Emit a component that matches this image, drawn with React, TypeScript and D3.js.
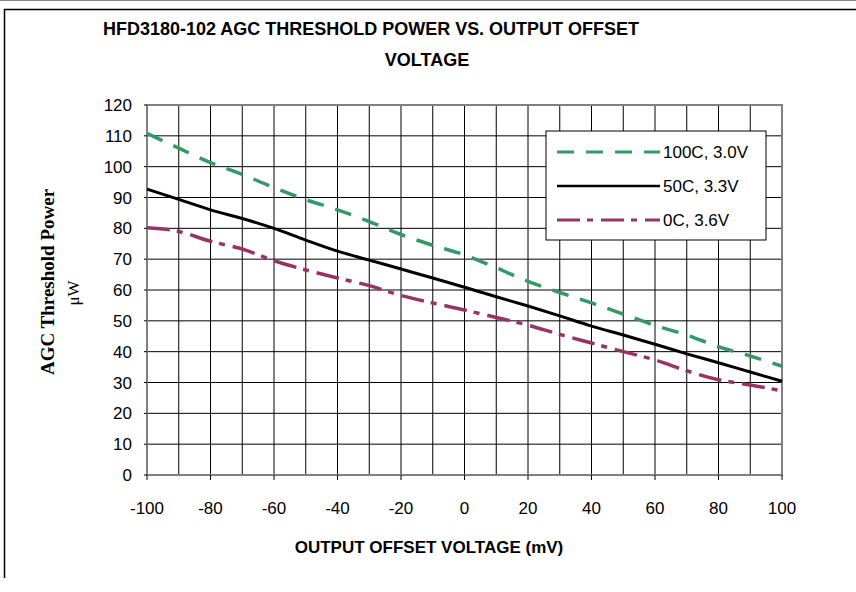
import React from 'react';
import * as d3 from 'd3';

const offsets = [-100, -90, -80, -70, -60, -50, -40, -30, -20, -10, 0, 10, 20, 30, 40, 50, 60, 70, 80, 90, 100];
const hot100 = [110.8, 106, 101.3, 97.5, 93.2, 89.3, 86, 82.2, 78, 74.5, 71.4, 67.2, 62.8, 59.2, 55.8, 52.2, 48.5, 45.4, 41.6, 38.6, 35.3];
const mid50 = [92.7, 89.4, 86, 83.2, 80, 76.2, 72.6, 69.7, 66.8, 63.9, 60.9, 57.8, 54.8, 51.6, 48.3, 45.4, 42.4, 39.3, 36.4, 33.4, 30.4];
const cold0 = [80.2, 79, 75.8, 73.3, 69.5, 66.5, 63.9, 61.4, 58.2, 55.8, 53.5, 51.1, 48.6, 45.6, 42.8, 40, 37.3, 33.8, 30.9, 29.2, 27.3];

const seriesNames = ['100C, 3.0V', '50C, 3.3V', '0C, 3.6V'];
const xTicks = [-100, -80, -60, -40, -20, 0, 20, 40, 60, 80, 100];
const yTicks = [0, 10, 20, 30, 40, 50, 60, 70, 80, 90, 100, 110, 120];

const sans = '"Liberation Sans", Arial, sans-serif';
const serif = '"Liberation Serif", "Times New Roman", serif';

export default function App() {
  const W = 856, H = 592;
  const plot = { left: 147, right: 782, top: 105, bottom: 475 };

  const x = d3.scaleLinear().domain([-100, 100]).range([plot.left, plot.right]);
  const y = d3.scaleLinear().domain([0, 120]).range([plot.bottom, plot.top]);

  const line = d3.line<number>()
    .x((_, i) => x(offsets[i]))
    .y(d => y(d))
    .curve(d3.curveMonotoneX);

  const series = [
    { name: seriesNames[0], values: hot100, color: '#339966', width: 3.5, dash: '17,12' },
    { name: seriesNames[1], values: mid50, color: '#000000', width: 3, dash: undefined },
    { name: seriesNames[2], values: cold0, color: '#993366', width: 3.5, dash: '23,7,6,8' },
  ];

  const gridX = d3.range(-90, 100, 10);
  const gridY = d3.range(10, 120, 10);

  const legend = { x: 546, y: 131, w: 220, h: 109 };
  const rowY = [152, 186, 220];

  return (
    <svg width={W} height={H} style={{ position: 'absolute', left: 0, top: 0, background: '#fff' }}>
      {/* outer frame */}
      <line x1={0} x2={W} y1={0.5} y2={0.5} stroke="#888" strokeWidth={1} />
      <line x1={4} x2={W} y1={9.5} y2={9.5} stroke="#000" strokeWidth={1.5} />
      <line x1={4.5} x2={4.5} y1={9} y2={578} stroke="#000" strokeWidth={1.5} />

      {/* title */}
      <text x={103} y={35} fontFamily={sans} fontWeight="bold" fontSize={18} textLength={536} lengthAdjust="spacingAndGlyphs">
        HFD3180-102 AGC THRESHOLD POWER VS. OUTPUT OFFSET
      </text>
      <text x={427} y={66} fontFamily={sans} fontWeight="bold" fontSize={18} textAnchor="middle">VOLTAGE</text>

      {/* grid */}
      {gridX.map(v => (
        <line key={'gx' + v} x1={x(v)} x2={x(v)} y1={plot.top} y2={plot.bottom} stroke="#000" strokeWidth={1} />
      ))}
      {gridY.map(v => (
        <line key={'gy' + v} x1={plot.left} x2={plot.right} y1={y(v)} y2={y(v)} stroke="#000" strokeWidth={1} />
      ))}
      <rect x={plot.left} y={plot.top} width={plot.right - plot.left} height={plot.bottom - plot.top}
        fill="none" stroke="#808080" strokeWidth={2} />

      {/* ticks */}
      {xTicks.map(v => (
        <line key={'tx' + v} x1={x(v)} x2={x(v)} y1={plot.bottom} y2={plot.bottom + 5} stroke="#000" strokeWidth={1} />
      ))}
      {yTicks.map(v => (
        <line key={'ty' + v} x1={plot.left - 3} x2={plot.left} y1={y(v)} y2={y(v)} stroke="#000" strokeWidth={1} />
      ))}

      {/* tick labels */}
      {yTicks.map(v => (
        <text key={'ly' + v} x={132} y={y(v) + 6} textAnchor="end" fontFamily={sans} fontSize={17}>{v}</text>
      ))}
      {xTicks.map(v => (
        <text key={'lx' + v} x={x(v)} y={514} textAnchor="middle" fontFamily={sans} fontSize={17}>{v}</text>
      ))}

      {/* series */}
      {series.map(s => (
        <path key={s.name} d={line(s.values) || ''} fill="none" stroke={s.color} strokeWidth={s.width}
          strokeDasharray={s.dash} />
      ))}

      {/* axis titles */}
      <text x={429} y={553} textAnchor="middle" fontFamily={sans} fontWeight="bold" fontSize={17}>
        OUTPUT OFFSET VOLTAGE (mV)
      </text>
      <text transform="translate(54,282) rotate(-90)" textAnchor="middle" fontFamily={serif} fontWeight="bold" fontSize={19}>
        AGC Threshold Power
      </text>
      <text transform="translate(79,293) rotate(-90)" textAnchor="middle" fontFamily={serif} fontSize={17}>
        μW
      </text>

      {/* legend */}
      <rect x={legend.x} y={legend.y} width={legend.w} height={legend.h} fill="#fff" stroke="#000" strokeWidth={1} />
      {series.map((s, i) => (
        <g key={'lg' + s.name}>
          <line x1={557} x2={660} y1={rowY[i]} y2={rowY[i]} stroke={s.color} strokeWidth={s.width - 0.5}
            strokeDasharray={s.dash} />
          <text x={663} y={rowY[i] + 6} fontFamily={sans} fontSize={17}>{s.name}</text>
        </g>
      ))}
    </svg>
  );
}
